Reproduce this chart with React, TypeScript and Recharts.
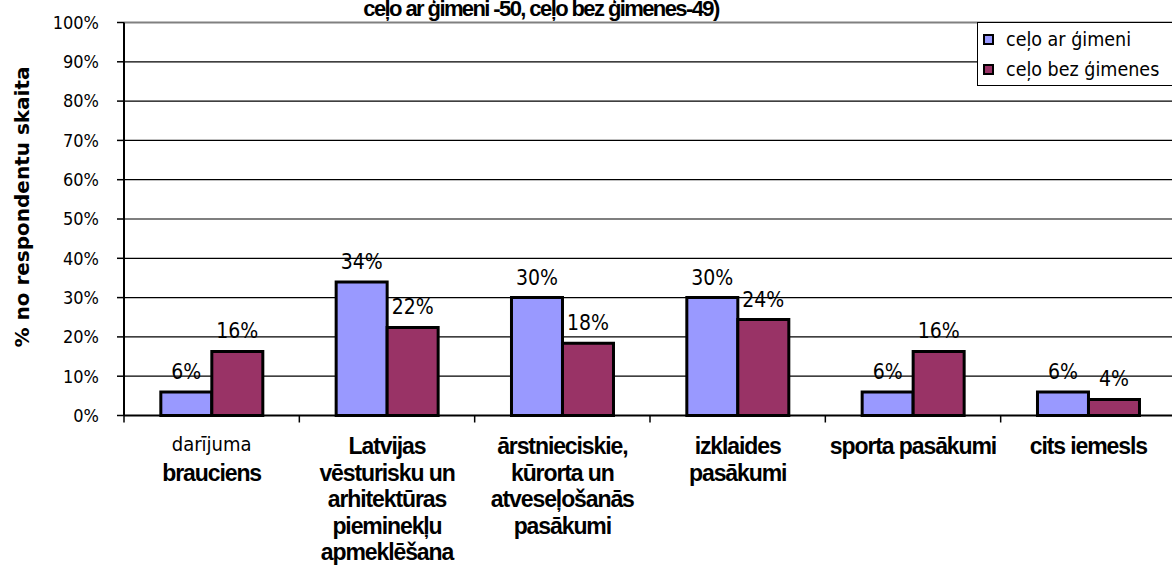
import React from 'react';
import {
  BarChart,
  Bar,
  XAxis,
  YAxis,
  CartesianGrid,
  Legend,
  LabelList,
  ReferenceLine,
  Customized,
} from 'recharts';

// categories (full names) and how they wrap under the axis
const categories = [
  'darījuma brauciens',
  'Latvijas vēsturisku un arhitektūras pieminekļu apmeklēšana',
  'ārstnieciskie, kūrorta un atveseļošanās pasākumi',
  'izklaides pasākumi',
  'sporta pasākumi',
  'cits iemesls',
];
const categoryLines = [
  ['darījuma', 'brauciens'],
  ['Latvijas', 'vēsturisku un', 'arhitektūras', 'pieminekļu', 'apmeklēšana'],
  ['ārstnieciskie,', 'kūrorta un', 'atveseļošanās', 'pasākumi'],
  ['izklaides', 'pasākumi'],
  ['sporta pasākumi'],
  ['cits iemesls'],
];

// % of respondents (n = 50 with family, n = 49 without)
const withFamily = [6, 34, 30, 30, 6, 6];
const withoutFamily = [16.3, 22.4, 18.4, 24.4, 16.3, 4.1];

const seriesNames = ['ceļo ar ģimeni', 'ceļo bez ģimenes'];
const seriesColors = ['#9999FF', '#993366'];
const yTicks = [0, 10, 20, 30, 40, 50, 60, 70, 80, 90, 100];
const titleLine = 'ceļo ar ģimeni -50, ceļo bez ģimenes-49)';
const yTitle = '% no respondentu skaita';

const data = categories.map((name, i) => ({
  name,
  a: withFamily[i],
  b: withoutFamily[i],
}));

const tahoma = '"DejaVu Sans Condensed", "DejaVu Sans", sans-serif';
const arialBold = '"Liberation Sans", Arial, sans-serif';

// category label, with Excel-style tick marks between categories
const CategoryTick = (props: any) => {
  const { x, y, payload, index } = props;
  const half = payload?.offset ?? 87.6;
  const lines = categoryLines[index] || [payload.value];
  return (
    <g>
      <line x1={x - half} y1={y} x2={x - half} y2={y + 7} stroke="#000" strokeWidth={1.5} />
      {index === categories.length - 1 && (
        <line x1={x + half} y1={y} x2={x + half} y2={y + 7} stroke="#000" strokeWidth={1.5} />
      )}
      {lines.map((t: string, i: number) => {
        const plain = index === 0 && i === 0;
        return (
          <text
            key={i}
            x={x}
            y={y + (plain ? 35.5 : 38.5 + i * 26.5)}
            textAnchor="middle"
            fill="#000"
            fontFamily={plain ? tahoma : arialBold}
            fontWeight={plain ? 'normal' : 'bold'}
            fontSize={plain ? 20 : 23}
            letterSpacing={plain ? 0 : -1.1}
          >
            {t}
          </text>
        );
      })}
    </g>
  );
};

const LegendBox = () => (
  <div
    style={{
      position: 'relative',
      width: 220,
      height: 62,
      border: '1px solid #000',
      background: '#fff',
      fontFamily: tahoma,
      fontSize: 19.5,
      color: '#000',
    }}
  >
    {seriesNames.map((n, i) => (
      <div key={n} style={{ position: 'absolute', left: 5, top: 4 + i * 30, height: 24, display: 'flex', alignItems: 'center' }}>
        <span
          style={{
            display: 'inline-block',
            width: 7,
            height: 7,
            border: '2px solid #000',
            background: seriesColors[i],
            marginRight: 12,
          }}
        />
        <span>{n}</span>
      </div>
    ))}
  </div>
);

const pct = (v: any) => `${Math.round(Number(v))}%`;

export default function App() {
  return (
    <div style={{ position: 'absolute', left: 0, top: 0, width: 1172, height: 569, overflow: 'hidden', background: '#fff' }}>
      <BarChart
        width={1180}
        height={569}
        data={data}
        margin={{ top: 22.5, right: 4, bottom: 0, left: 0 }}
        barCategoryGap="21%"
        barGap={0}
      >
        <CartesianGrid vertical={false} stroke="#000" strokeWidth={1.2} />
        <ReferenceLine y={100} stroke="#808080" strokeWidth={2} />
        <XAxis
          dataKey="name"
          height={153.5}
          interval={0}
          tickLine={false}
          tickSize={0}
          tickMargin={0}
          axisLine={{ stroke: '#000', strokeWidth: 2 }}
          tick={<CategoryTick />}
        />
        <YAxis
          width={124}
          domain={[0, 100]}
          ticks={yTicks}
          interval={0}
          tickSize={7}
          tickMargin={18}
          tickFormatter={(v: number) => `${v}%`}
          axisLine={{ stroke: '#000', strokeWidth: 2 }}
          tickLine={{ stroke: '#000', strokeWidth: 1.5 }}
          tick={{ fill: '#000', fontFamily: tahoma, fontSize: 18 }}
          label={{
            content: () => (
              <text
                x={29}
                y={207}
                transform="rotate(-90, 29, 207)"
                textAnchor="middle"
                fill="#000"
                fontFamily='"DejaVu Sans", sans-serif'
                fontWeight="bold"
                fontSize={20}
              >
                {yTitle}
              </text>
            ),
          }}
        />
        <Legend
          layout="horizontal"
          verticalAlign="middle"
          align="center"
          content={<LegendBox />}
          wrapperStyle={{ left: 977, top: 22, width: 230 }}
        />
        <Bar dataKey="a" name={seriesNames[0]} fill={seriesColors[0]} stroke="#000" strokeWidth={3} isAnimationActive={false}>
          <LabelList
            dataKey="a"
            position="top"
            offset={13}
            formatter={pct}
            style={{ fill: '#000', fontFamily: tahoma, fontSize: 21 }}
          />
        </Bar>
        <Bar dataKey="b" name={seriesNames[1]} fill={seriesColors[1]} stroke="#000" strokeWidth={3} isAnimationActive={false}>
          <LabelList
            dataKey="b"
            position="top"
            offset={13}
            formatter={pct}
            style={{ fill: '#000', fontFamily: tahoma, fontSize: 21 }}
          />
        </Bar>
        <Customized
          component={() => (
            <text
              x={541}
              y={16}
              textAnchor="middle"
              fill="#000"
              fontFamily={arialBold}
              fontWeight="bold"
              fontSize={22}
              letterSpacing={-1.6}
            >
              {titleLine}
            </text>
          )}
        />
      </BarChart>
    </div>
  );
}
